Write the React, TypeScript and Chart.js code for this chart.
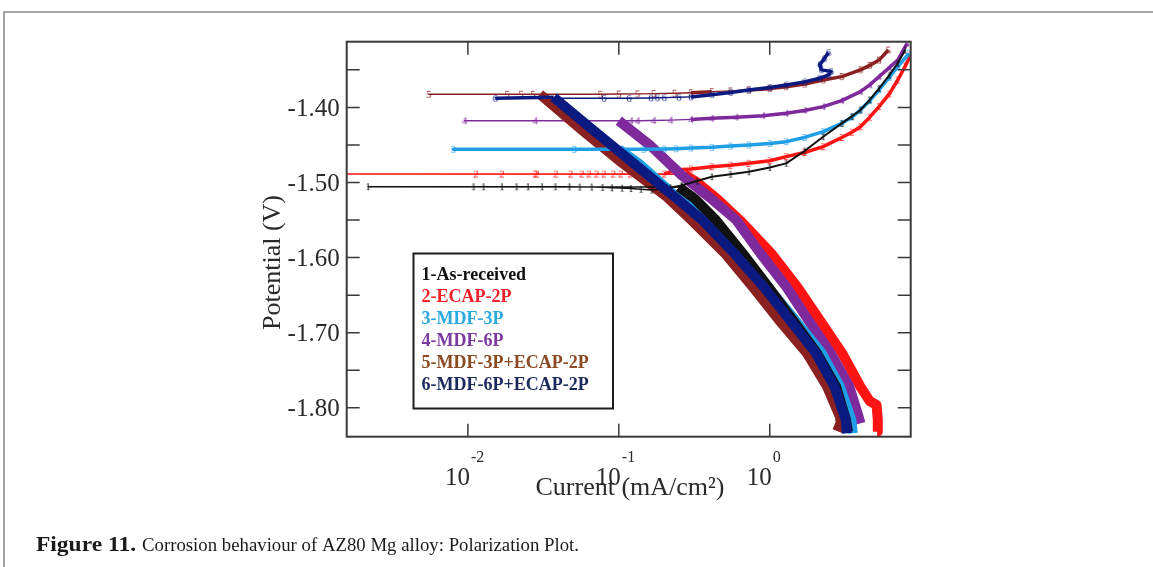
import React, { useEffect, useRef } from 'react';
import { Chart, registerables } from 'chart.js';

Chart.register(...registerables);

// ---------- data (current in mA/cm², potential in V) ----------
const seriesLabels = ['1-As-received', '2-ECAP-2P', '3-MDF-3P', '4-MDF-6P', '5-MDF-3P+ECAP-2P', '6-MDF-6P+ECAP-2P'];

// cathodic branches: from start of scan (bottom) up to Ecorr
const s1CathI = [3.3, 3.2, 2.75, 2.05, 1.42, 0.98, 0.66, 0.44, 0.32, 0.25];
const s1CathE = [-1.832, -1.816, -1.772, -1.727, -1.683, -1.639, -1.594, -1.55, -1.522, -1.506];
// Ecorr tail + anodic branch
const s1AnodI = [0.00218, 0.0109, 0.0127, 0.0168, 0.021, 0.025, 0.031, 0.038, 0.047, 0.055, 0.066, 0.078, 0.09, 0.105, 0.12, 0.14, 0.165, 0.19, 0.22, 0.26, 0.33, 0.413, 0.55, 0.726, 1.0, 1.285, 1.7, 2.26, 3.0, 3.5, 3.99, 4.6, 5.3, 6.2, 7.05, 7.9];
const s1AnodE = [-1.5056, -1.5056, -1.5056, -1.5056, -1.5056, -1.5056, -1.5056, -1.5056, -1.5056, -1.506, -1.506, -1.5065, -1.507, -1.5075, -1.508, -1.509, -1.51, -1.509, -1.507, -1.504, -1.498, -1.4923, -1.489, -1.4856, -1.48, -1.4745, -1.458, -1.439, -1.4212, -1.412, -1.4035, -1.39, -1.3746, -1.357, -1.3412, -1.3236];

const s2CathI = [5.15, 5.2, 5.1, 4.6, 4.46, 3.99, 3.01, 2.14, 1.52, 1.02, 0.633, 0.45, 0.33, 0.27];
const s2CathE = [-1.832, -1.816, -1.796, -1.791, -1.787, -1.772, -1.727, -1.683, -1.639, -1.594, -1.55, -1.522, -1.5, -1.489];
const s2AnodI = [0.001, 0.0113, 0.0168, 0.0279, 0.0286, 0.0382, 0.0479, 0.0568, 0.0635, 0.0711, 0.0796, 0.0919, 0.103, 0.119, 0.14, 0.165, 0.2, 0.234, 0.3, 0.413, 0.55, 0.726, 1.0, 1.285, 1.7, 2.26, 3.0, 3.5, 3.99, 4.6, 5.3, 6.2, 7.05, 7.9, 8.6];
const s2AnodE = [-1.4887, -1.4887, -1.4887, -1.4887, -1.4887, -1.4887, -1.4887, -1.4887, -1.4887, -1.4887, -1.4887, -1.4887, -1.4887, -1.4887, -1.4887, -1.4887, -1.4887, -1.4834, -1.482, -1.479, -1.477, -1.4745, -1.471, -1.4656, -1.46, -1.4523, -1.44, -1.433, -1.4257, -1.413, -1.399, -1.382, -1.3635, -1.345, -1.33];

const s3CathI = [3.55, 3.47, 2.92, 2.2, 1.47, 0.97, 0.62, 0.38, 0.24, 0.135, 0.1];
const s3CathE = [-1.834, -1.816, -1.772, -1.727, -1.683, -1.639, -1.594, -1.55, -1.519, -1.4745, -1.4558];
const s3AnodI = [0.008, 0.0507, 0.1, 0.146, 0.2, 0.24, 0.3, 0.413, 0.55, 0.726, 1.0, 1.285, 1.7, 2.26, 3.0, 3.5, 3.99, 4.6, 5.3, 6.2, 7.05, 8.37];
const s3AnodE = [-1.4558, -1.4558, -1.4558, -1.4558, -1.4555, -1.455, -1.454, -1.4532, -1.4515, -1.45, -1.448, -1.4456, -1.44, -1.4323, -1.4212, -1.413, -1.4035, -1.391, -1.3768, -1.36, -1.3458, -1.328];

const s4CathI = [3.99, 3.88, 3.37, 2.53, 1.8, 1.29, 0.864, 0.6, 0.4, 0.26, 0.16, 0.1];
const s4CathE = [-1.8207, -1.812, -1.772, -1.727, -1.683, -1.639, -1.594, -1.55, -1.52, -1.49, -1.45, -1.4177];
const s4AnodI = [0.0095, 0.0279, 0.0526, 0.1036, 0.12, 0.133, 0.17, 0.22, 0.3, 0.413, 0.6, 0.9, 1.285, 1.7, 2.26, 3.0, 3.99, 4.6, 5.3, 6.2, 7.05, 8.13];
const s4AnodE = [-1.4177, -1.4177, -1.4177, -1.4177, -1.4177, -1.4177, -1.4175, -1.417, -1.416, -1.4145, -1.413, -1.411, -1.4079, -1.404, -1.399, -1.391, -1.379, -1.37, -1.359, -1.347, -1.337, -1.3147];

const s5CathI = [2.8, 2.95, 2.92, 2.4, 1.76, 1.15, 0.771, 0.503, 0.302, 0.208, 0.106, 0.0568, 0.03];
const s5CathE = [-1.831, -1.82, -1.812, -1.772, -1.727, -1.683, -1.639, -1.594, -1.55, -1.519, -1.4745, -1.43, -1.3825];
const s5AnodI = [0.0055, 0.0182, 0.0225, 0.027, 0.0753, 0.1, 0.133, 0.17, 0.234, 0.3, 0.413, 0.55, 0.726, 1.0, 1.285, 1.7, 2.26, 3.0, 3.99, 4.6, 5.3, 6.11];
const s5AnodE = [-1.3825, -1.3825, -1.3825, -1.3825, -1.3825, -1.3822, -1.382, -1.3816, -1.3812, -1.3805, -1.379, -1.378, -1.3768, -1.375, -1.3724, -1.369, -1.3635, -1.359, -1.35, -1.344, -1.337, -1.3236];

const s6CathI = [3.25, 3.19, 2.69, 2.02, 1.36, 0.912, 0.58, 0.358, 0.234, 0.1256, 0.0673, 0.037];
const s6CathE = [-1.834, -1.816, -1.772, -1.727, -1.683, -1.639, -1.594, -1.55, -1.519, -1.4745, -1.43, -1.3865];
const s6AnodI = [0.0152, 0.0798, 0.117, 0.163, 0.18, 0.2, 0.25, 0.3, 0.413, 0.55, 0.726, 1.0, 1.285, 1.7, 2.14, 2.45, 2.55, 2.2, 2.15, 2.3, 2.45];
const s6AnodE = [-1.3879, -1.3879, -1.3879, -1.3875, -1.3872, -1.387, -1.3865, -1.386, -1.383, -1.38, -1.3768, -1.3735, -1.3701, -1.366, -1.3612, -1.357, -1.352, -1.35, -1.343, -1.335, -1.327];

const currentTicks = [0.01, 0.1, 1];
const currentTickExponents = ['-2', '-1', '0'];
const potentialTicks = [-1.8, -1.75, -1.7, -1.65, -1.6, -1.55, -1.5, -1.45, -1.4, -1.35];
const currentMin = 0.001574;
const currentMax = 8.59;
const potentialMin = -1.8385;
const potentialMax = -1.3125;

const xTitle = 'Current (mA/cm\u00B2)';
const yTitle = 'Potential (V)';
const captionBold = 'Figure 11.';
const captionText = 'Corrosion behaviour of AZ80 Mg alloy: Polarization Plot.';

// ---------- styles ----------
const SERIF = "'Liberation Serif', 'Times New Roman', serif";
const lineColors = ['#111111', '#ff1414', '#1f9fe6', '#7e2a9c', '#8b2020', '#0b1a80'];
const legendColors = ['#111111', '#f5202a', '#2aa9e0', '#7b3aa0', '#8b4a22', '#1b2a5c'];
const drawOrder = [2, 6, 3, 5, 4, 1];
const tailWidths = [1.4, 1.6, 3.5, 1.4, 1.4, 1.4];
const anodicWidths = [2, 3.5, 3.5, 3.5, 3.5, 3.5];

const cathI = [s1CathI, s2CathI, s3CathI, s4CathI, s5CathI, s6CathI];
const cathE = [s1CathE, s2CathE, s3CathE, s4CathE, s5CathE, s6CathE];
const anodI = [s1AnodI, s2AnodI, s3AnodI, s4AnodI, s5AnodI, s6AnodI];
const anodE = [s1AnodE, s2AnodE, s3AnodE, s4AnodE, s5AnodE, s6AnodE];

function digitMarker(d: string, color: string): HTMLCanvasElement {
  const c = document.createElement('canvas');
  c.width = 8;
  c.height = 11;
  const g = c.getContext('2d')!;
  g.fillStyle = color;
  g.font = `11px ${SERIF}`;
  g.textAlign = 'center';
  g.textBaseline = 'middle';
  g.fillText(d, 4, 6);
  return c;
}

function buildDatasets() {
  return seriesLabels.map((label, k) => {
    const nC = cathI[k].length;
    const data = [
      ...cathI[k].map((x, i) => ({ x, y: cathE[k][i] })),
      ...anodI[k].map((x, i) => ({ x, y: anodE[k][i] })),
    ];
    const marker = digitMarker(String(k + 1), lineColors[k]);
    return {
      label,
      data,
      order: drawOrder[k],
      borderColor: lineColors[k],
      backgroundColor: lineColors[k],
      borderWidth: 3,
      borderJoinStyle: 'round' as const,
      tension: 0,
      clip: 0,
      showLine: true,
      pointStyle: marker,
      pointRadius: (c: any) => (c.dataIndex < nC ? 0 : 3),
      pointHoverRadius: 0,
      segment: {
        borderWidth: (c: any) => {
          if (c.p1DataIndex < nC) return 10;
          if (Math.abs(c.p0.y - c.p1.y) < 1) return tailWidths[k];
          return anodicWidths[k];
        },
      },
    };
  });
}

const decorPlugin = {
  id: 'decor',
  beforeDraw(chart: any) {
    const ctx = chart.ctx;
    ctx.save();
    ctx.fillStyle = '#ffffff';
    ctx.fillRect(0, 0, chart.width, chart.height);
    ctx.restore();
  },
  afterDraw(chart: any) {
    const { ctx, chartArea: a, scales } = chart;
    const xs = scales.x;
    const ys = scales.y;
    ctx.save();

    // page frame
    ctx.strokeStyle = '#8c8c8c';
    ctx.lineWidth = 1.6;
    ctx.beginPath();
    ctx.moveTo(4, chart.height);
    ctx.lineTo(4, 12);
    ctx.lineTo(chart.width, 12);
    ctx.stroke();

    // plot border
    ctx.strokeStyle = '#3a3a3a';
    ctx.lineWidth = 2;
    ctx.strokeRect(a.left, a.top, a.right - a.left, a.bottom - a.top);

    // inward tick marks
    ctx.lineWidth = 1.5;
    ctx.beginPath();
    for (const v of potentialTicks) {
      const y = ys.getPixelForValue(v);
      ctx.moveTo(a.left, y);
      ctx.lineTo(a.left + 13, y);
      ctx.moveTo(a.right, y);
      ctx.lineTo(a.right - 13, y);
    }
    for (const v of currentTicks) {
      const x = xs.getPixelForValue(v);
      ctx.moveTo(x, a.bottom);
      ctx.lineTo(x, a.bottom - 13);
      ctx.moveTo(x, a.top);
      ctx.lineTo(x, a.top + 13);
    }
    ctx.stroke();

    // x tick labels 10^n
    ctx.fillStyle = '#2a2a2a';
    ctx.textBaseline = 'alphabetic';
    currentTicks.forEach((v, i) => {
      const x = xs.getPixelForValue(v) + 2;
      ctx.font = `25px ${SERIF}`;
      ctx.textAlign = 'right';
      ctx.fillText('10', x, a.bottom + 48);
      ctx.font = `16px ${SERIF}`;
      ctx.textAlign = 'left';
      ctx.fillText(currentTickExponents[i], x + 1, a.bottom + 25);
    });

    // axis titles
    ctx.font = `26px ${SERIF}`;
    ctx.textAlign = 'center';
    ctx.fillText(xTitle, 630, a.bottom + 58);
    ctx.save();
    ctx.translate(280, 262.5);
    ctx.rotate(-Math.PI / 2);
    ctx.fillText(yTitle, 0, 0);
    ctx.restore();

    // legend box
    const lx = 413.5, ly = 253.5, lw = 199.5, lh = 155;
    ctx.fillStyle = '#ffffff';
    ctx.fillRect(lx, ly, lw, lh);
    ctx.strokeStyle = '#1c1c1c';
    ctx.lineWidth = 2;
    ctx.strokeRect(lx, ly, lw, lh);
    ctx.font = `bold 18px ${SERIF}`;
    ctx.textAlign = 'left';
    ctx.textBaseline = 'middle';
    chart.data.datasets.forEach((ds: any, i: number) => {
      ctx.fillStyle = legendColors[i];
      ctx.fillText(ds.label, 421.5, 275.5 + i * 22);
    });

    // caption
    ctx.textBaseline = 'alphabetic';
    ctx.fillStyle = '#1a1a1a';
    ctx.font = `bold 20px ${SERIF}`;
    const bw = ctx.measureText(captionBold).width;
    ctx.save();
    ctx.translate(36, 551);
    ctx.scale(100 / bw, 1);
    ctx.fillText(captionBold, 0, 0);
    ctx.restore();
    const startX = 142;
    ctx.font = `19.5px ${SERIF}`;
    const tw = ctx.measureText(captionText).width;
    ctx.save();
    ctx.translate(startX, 551);
    ctx.scale((579 - startX) / tw, 1);
    ctx.fillText(captionText, 0, 0);
    ctx.restore();

    ctx.restore();
  },
};

export default function App() {
  const ref = useRef<HTMLCanvasElement>(null);
  useEffect(() => {
    if (!ref.current) return;
    const chart = new Chart(ref.current, {
      type: 'line',
      data: { datasets: buildDatasets() as any },
      options: {
        animation: false,
        responsive: false,
        devicePixelRatio: 1,
        events: [],
        layout: { padding: { left: 256.7, top: 41.7, right: 242.3, bottom: 70.3 } },
        plugins: { legend: { display: false }, tooltip: { enabled: false } },
        scales: {
          x: {
            type: 'logarithmic',
            min: currentMin,
            max: currentMax,
            grid: { display: false, drawTicks: false },
            border: { display: false },
            ticks: { display: false },
            afterBuildTicks: (s: any) => {
              s.ticks = currentTicks.map((v) => ({ value: v }));
            },
            afterFit: (s: any) => {
              s.height = 60;
            },
          },
          y: {
            type: 'linear',
            min: potentialMin,
            max: potentialMax,
            grid: { display: false, drawTicks: false },
            border: { display: false },
            afterBuildTicks: (s: any) => {
              s.ticks = potentialTicks.map((v) => ({ value: v }));
            },
            afterFit: (s: any) => {
              s.width = 90;
            },
            ticks: {
              autoSkip: false,
              padding: 7,
              labelOffset: 2,
              color: '#2a2a2a',
              font: { family: SERIF, size: 25 },
              callback: (v: any) => (Math.round(Number(v) * 100) % 10 === 0 ? Number(v).toFixed(2) : ''),
            },
          },
        },
      } as any,
      plugins: [decorPlugin],
    });
    return () => chart.destroy();
  }, []);
  return (
    <div style={{ position: 'fixed', left: 0, top: 0, width: 1153, height: 567, background: '#fff' }}>
      <canvas ref={ref} width={1153} height={567} style={{ display: 'block', width: 1153, height: 567 }} />
    </div>
  );
}
